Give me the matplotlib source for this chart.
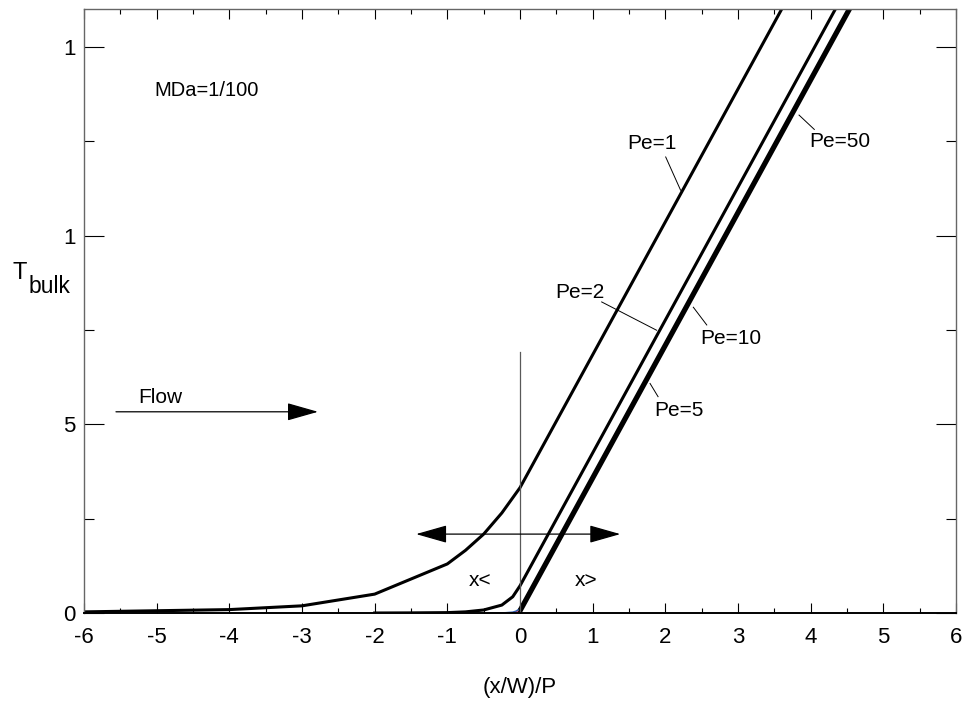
import numpy as np
import matplotlib
matplotlib.use("Agg")
import matplotlib.pyplot as plt

plt.rcParams['font.family'] = ['Liberation Sans', 'DejaVu Sans']

# ---- data -----------------------------------------------------------------
pe1_x = [-6, -5, -4, -3, -2, -1, -0.75, -0.5, -0.25, 0, 1, 2, 3, 4]
pe1_y = [0.03, 0.06, 0.09, 0.19, 0.50, 1.30, 1.66, 2.09, 2.65, 3.32,
         6.84, 10.36, 13.88, 17.40]

pe2_x = [-2, -1.5, -1, -0.75, -0.5, -0.25, -0.1, 0, 1, 2, 3, 4, 5]
pe2_y = [0, 0.003, 0.01, 0.03, 0.08, 0.21, 0.43, 0.72,
         4.24, 7.76, 11.28, 14.80, 18.32]

# upstream parts of the high Peclet curves (coloured in the original)
pe5_up_x = [-0.4, -0.3, -0.2, -0.1, -0.05, 0]
pe5_up_y = [0.0, 0.002, 0.005, 0.02, 0.05, 0.12]
pe10_up_x = [-0.1, -0.05, 0]
pe10_up_y = [0.0, 0.01, 0.05]

pe5_x = [0, 5]
pe5_y = [0.12, 17.70]
pe10_x = [0, 5]
pe10_y = [0.05, 17.63]
pe50_x = [0, 5]
pe50_y = [0.0, 17.58]

x_major = [-6, -5, -4, -3, -2, -1, 0, 1, 2, 3, 4, 5, 6]
x_labels = ['-6', '-5', '-4', '-3', '-2', '-1', '0', '1', '2', '3', '4', '5', '6']
y_major = [0, 5, 10, 15]
y_labels = ['0', '5', '1', '1']

# label text, text position, leader line (start, end)
pe_labels = ['Pe=1', 'Pe=2', 'Pe=5', 'Pe=10', 'Pe=50']
pe_text_xy = [(1.82, 12.43), (0.83, 8.49), (2.19, 5.36), (2.90, 7.26), (4.40, 12.49)]
pe_leaders = [((2.005, 12.08), (2.21, 11.20)),
              ((1.124, 8.24), (1.88, 7.49)),
              ((1.79, 6.08), (1.90, 5.73)),
              ((2.385, 8.10), (2.57, 7.63)),
              ((3.84, 13.19), (4.05, 12.81))]

# ---- figure ----------------------------------------------------------------
fig = plt.figure(figsize=(9.67, 7.02), dpi=100)
ax = fig.add_axes((84 / 967, 89 / 702, 872 / 967, 604 / 702))

lw = 2.2
ax.plot(pe1_x, pe1_y, color='k', lw=lw, solid_joinstyle='round')
ax.plot(pe2_x, pe2_y, color='k', lw=lw, solid_joinstyle='round')
ax.plot(pe5_up_x, pe5_up_y, color='#2a5caa', lw=1.2)
ax.plot(pe10_up_x, pe10_up_y, color='#c0285a', lw=1.2)
ax.plot(pe5_x, pe5_y, color='k', lw=lw)
ax.plot(pe10_x, pe10_y, color='k', lw=lw)
ax.plot(pe50_x, pe50_y, color='k', lw=lw)

# vertical marker at x = 0
ax.plot([0, 0], [0, 6.92], color='0.35', lw=0.9)

# double arrow x< / x>
ax.annotate('', xy=(-1.43, 2.09), xytext=(1.38, 2.09),
            arrowprops=dict(arrowstyle='<|-|>,head_length=1.3,head_width=0.37',
                            mutation_scale=15, color='k', lw=0.9,
                            shrinkA=0, shrinkB=0))
ax.text(-0.55, 0.85, 'x<', fontsize=15, ha='center', va='center')
ax.text(0.915, 0.85, 'x>', fontsize=15, ha='center', va='center')

# flow arrow
ax.annotate('', xy=(-2.78, 5.33), xytext=(-5.56, 5.33),
            arrowprops=dict(arrowstyle='-|>,head_length=1.3,head_width=0.37',
                            mutation_scale=15, color='k', lw=0.9,
                            shrinkA=0, shrinkB=0))
ax.text(-5.26, 5.56, 'Flow', fontsize=15, ha='left', va='baseline')

ax.text(-4.31, 13.85, 'MDa=1/100', fontsize=14.5, ha='center', va='center')

for lab, (tx, ty), (p0, p1) in zip(pe_labels, pe_text_xy, pe_leaders):
    ax.text(tx, ty, lab, fontsize=15, ha='center', va='center')
    ax.plot([p0[0], p1[0]], [p0[1], p1[1]], color='k', lw=0.7)

# axes
ax.set_xlim(-6, 6)
ax.set_ylim(0, 16)
ax.set_xticks(x_major, labels=x_labels)
ax.set_xticks(np.arange(-5.5, 6, 1.0), minor=True)
ax.set_yticks(y_major, labels=y_labels)
ax.set_yticks([2.5, 7.5, 12.5], minor=True)

ax.tick_params(axis='x', which='major', direction='in', length=7.2, width=0.8,
               top=True, bottom=True, labelsize=16, pad=10)
ax.tick_params(axis='x', which='minor', direction='in', length=3.6, width=0.8,
               top=True, bottom=True)
ax.tick_params(axis='y', which='major', direction='in', length=14.4, width=0.8,
               left=True, right=True, labelsize=16, pad=6, colors='k')
ax.tick_params(axis='y', which='minor', direction='in', length=7.2, width=0.8,
               left=True, right=True)
for t in ax.yaxis.get_ticklines(minor=False) + ax.yaxis.get_ticklines(minor=True):
    t.set_color('0.4')

for side in ['left', 'right', 'top']:
    ax.spines[side].set_color('0.4')
    ax.spines[side].set_linewidth(1.0)
ax.spines['bottom'].set_color('k')
ax.spines['bottom'].set_linewidth(1.4)

ax.set_xlabel('(x/W)/P', fontsize=16, labelpad=21)

# y label: T with lowered "bulk"
fig.text(20 / 967, 1 - 273 / 702, 'T', fontsize=17, ha='center', va='center')
fig.text(49 / 967, 1 - 287 / 702, 'bulk', fontsize=16.5, ha='center', va='center')

fig.savefig('out.png', dpi=100)
